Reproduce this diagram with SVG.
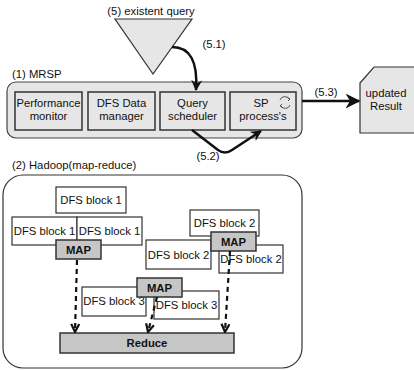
<svg xmlns="http://www.w3.org/2000/svg" width="414" height="370" viewBox="0 0 414 370">
<style>
text{font-family:"Liberation Sans",Arial,sans-serif;fill:#111}
.lbl{font-size:11.3px;text-anchor:middle}
.hd{font-size:11.3px}
.b{font-weight:bold}
.box{fill:#e6e6e6;stroke:#333;stroke-width:1.5}
.blk{fill:#fff;stroke:#333;stroke-width:1.2}
.map{fill:#c6c6c6;stroke:#333;stroke-width:1.5}
.solid{fill:none;stroke:#111;stroke-width:2.5}
.dash{fill:none;stroke:#111;stroke-width:2.2;stroke-dasharray:5 4}
</style>
<defs>
<marker id="fill" viewBox="0 0 10 10" refX="9" refY="5" markerWidth="11" markerHeight="11" markerUnits="userSpaceOnUse" orient="auto">
<path d="M0,0 L10,5 L0,10 L3,5 z" fill="#111"/>
</marker>
<marker id="fillL" viewBox="0 0 10 10" refX="9" refY="5" markerWidth="15" markerHeight="15" markerUnits="userSpaceOnUse" orient="auto">
<path d="M0,0 L10,5 L0,10 L3,5 z" fill="#111"/>
</marker>
<marker id="open" viewBox="0 0 10 10" refX="9" refY="5" markerWidth="10" markerHeight="10" markerUnits="userSpaceOnUse" orient="auto">
<path d="M1,1 L9,5 L1,9" fill="none" stroke="#111" stroke-width="2.2"/>
</marker>
</defs>

<g id="query">
<text class="lbl" x="151" y="15">(5) existent query</text>
<polygon points="115,19 192,19 153,74" fill="#e6e6e6" stroke="#333" stroke-width="1.2"/>
</g>

<g id="mrsp">
<text class="hd" x="12" y="78">(1) MRSP</text>
<rect x="7" y="82" width="295" height="56" rx="9" fill="#e6e6e6" stroke="#444" stroke-width="1.2"/>
</g>
<g id="perf">
<rect class="box" x="15" y="92" width="67" height="38"/>
<text class="lbl" x="48.5" y="107" textLength="64" lengthAdjust="spacingAndGlyphs">Performance</text>
<text class="lbl" x="48.5" y="120">monitor</text>
</g>
<g id="dfsdata">
<rect class="box" x="88" y="92" width="67" height="38"/>
<text class="lbl" x="121.5" y="107">DFS Data</text>
<text class="lbl" x="121.5" y="120">manager</text>
</g>
<g id="sched">
<rect class="box" x="160" y="92" width="65" height="38"/>
<text class="lbl" x="192.5" y="107">Query</text>
<text class="lbl" x="192.5" y="120">scheduler</text>
</g>
<g id="sp">
<rect class="box" x="230" y="92" width="66" height="38"/>
<text class="lbl" x="261" y="107">SP</text>
<text class="lbl" x="263" y="120">process's</text>
<path d="M280,100 A5,5 0 0 1 289,99" fill="none" stroke="#555" stroke-width="1"/>
<path d="M290,105 A5,5 0 0 1 281,106" fill="none" stroke="#555" stroke-width="1"/>
<path d="M287,97 L290,99 L288,101" fill="none" stroke="#555" stroke-width="1"/>
<path d="M283,108 L280,106 L282,104" fill="none" stroke="#555" stroke-width="1"/>
</g>

<g id="result">
<path d="M360,83 L374,67 L420,67 L420,133 L360,133 Z" fill="#e6e6e6" stroke="#333" stroke-width="1.2"/>
<text class="lbl" x="386" y="97">updated</text>
<text class="lbl" x="386" y="110">Result</text>
</g>

<g id="hadoop">
<text class="hd" x="12" y="169">(2) Hadoop(map-reduce)</text>
<rect x="3" y="175" width="299" height="193" rx="20" fill="#fff" stroke="#333" stroke-width="1.2"/>
</g>
<g id="b1top"><rect class="blk" x="56" y="187" width="70" height="26"/><text class="lbl" x="91" y="204">DFS block 1</text></g>
<g id="b1l"><rect class="blk" x="12" y="217" width="65" height="28"/><text class="lbl" x="44.5" y="235">DFS block 1</text></g>
<g id="b1r"><rect class="blk" x="77" y="217" width="65" height="28"/><text class="lbl" x="109.5" y="235">DFS block 1</text></g>
<g id="map1"><rect class="map" x="56" y="240" width="45" height="19"/><text class="lbl b" x="78.5" y="253.5">MAP</text></g>

<g id="b2top"><rect class="blk" x="190" y="210" width="69" height="26"/><text class="lbl" x="224.5" y="227">DFS block 2</text></g>
<g id="b2l"><rect class="blk" x="146" y="240" width="65" height="29"/><text class="lbl" x="178.5" y="259">DFS block 2</text></g>
<g id="b2r"><rect class="blk" x="219" y="245" width="64" height="28"/><text class="lbl" x="251" y="263">DFS block 2</text></g>
<g id="map2"><rect class="map" x="211" y="232" width="45" height="19"/><text class="lbl b" x="233.5" y="245.5">MAP</text></g>

<g id="b3l"><rect class="blk" x="82" y="287" width="64" height="29"/><text class="lbl" x="114" y="305">DFS block 3</text></g>
<g id="b3r"><rect class="blk" x="154" y="291" width="65" height="28"/><text class="lbl" x="186.5" y="309">DFS block 3</text></g>
<g id="map3"><rect class="map" x="137" y="278" width="45" height="19"/><text class="lbl b" x="159.5" y="291.5">MAP</text></g>

<g id="reduce"><rect class="map" x="60" y="333" width="174" height="20"/><text class="lbl b" x="147" y="347">Reduce</text></g>

<g id="connectors">
<path class="solid" d="M172,47 Q199,47 196,90" marker-end="url(#fill)"/>
<text class="lbl" x="214" y="48">(5.1)</text>
<path class="solid" d="M192,130 L218,150 Q225,155 232,150 L261,131" marker-end="url(#fill)"/>
<text class="lbl" x="208" y="160">(5.2)</text>
<path class="solid" d="M302,101 L359,101" marker-end="url(#fillL)"/>
<text class="lbl" x="326" y="96">(5.3)</text>
<path class="dash" d="M77,260 L75,332" marker-end="url(#open)"/>
<path class="dash" d="M157,297 L148,332" marker-end="url(#open)"/>
<path class="dash" d="M230,251 L225,332" marker-end="url(#open)"/>
</g>
</svg>
